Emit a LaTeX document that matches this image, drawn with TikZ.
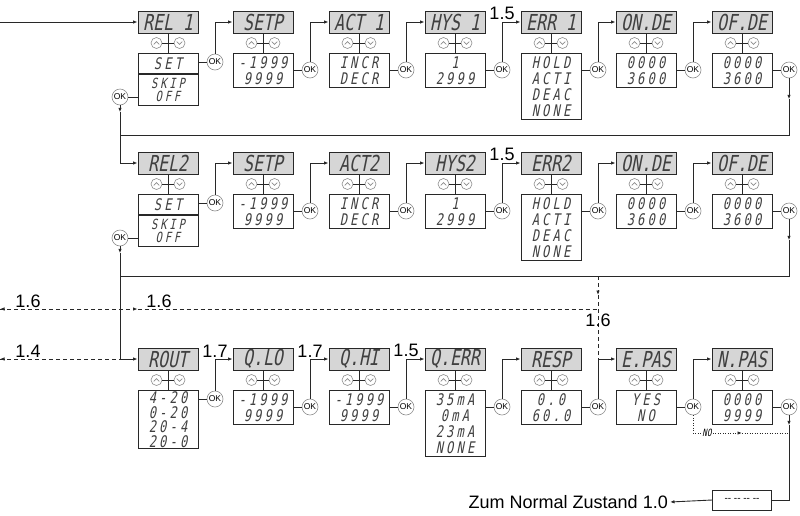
\documentclass[tikz,border=0pt]{standalone}
\usepackage{fontspec}
\setmainfont{Liberation Sans}
\newfontfamily\lcd[FakeSlant=0.2, FakeStretch=0.75]{DejaVu Sans Mono}
\newfontfamily\lcdw[FakeSlant=0.2, FakeStretch=0.75, LetterSpace=20]{DejaVu Sans Mono}
\usepackage{tikz}
\usetikzlibrary{calc, positioning, arrows.meta}
\usepackage{xcolor}
\definecolor{lcdgray}{RGB}{214, 214, 214}
\definecolor{linegray}{RGB}{40, 40, 40}
\definecolor{ringgray}{RGB}{140, 140, 140}

% 显示屏标题 + 上下键
\newcommand{\menuhead}[4]{%
    \node[hdr] (#1-h) at (#2, #3+11) {#4};
    \node[chev] (#1-u) at (#2-11.5, #3+32) {};
    \node[chev] (#1-d) at (#2+11.5, #3+32) {};
    \draw[chv] ([shift={(-2.8, 1.3)}]#1-u.center) -- ++(2.8, -2.6) -- ++(2.8, 2.6);
    \draw[chv] ([shift={(-2.8, -1.3)}]#1-d.center) -- ++(2.8, 2.6) -- ++(2.8, -2.6);
    \draw[wire] (#1-u) -- (#1-d);
}

\begin{document}
\begin{tikzpicture}[x=1pt, y=-1pt, >={Latex[length=4.5pt, width=3.5pt]},
    wire/.style={line width=0.9pt, draw=linegray},
    hdr/.style={draw=linegray, line width=0.9pt, fill=lcdgray, minimum width=60, minimum height=22, inner sep=0pt, text=black!75, font=\lcd\fontsize{22}{22}\selectfont},
    opt/.style={draw=linegray, line width=0.9pt, fill=white, minimum width=60, inner sep=0pt, align=center, anchor=north, text=black!75, font=\lcdw\fontsize{16}{16}\selectfont},
    okc/.style={circle, draw=ringgray, line width=0.6pt, fill=white, minimum size=16, inner sep=0pt, font=\fontsize{8.5}{9}\selectfont},
    chev/.style={circle, draw=ringgray, line width=0.6pt, minimum size=11, inner sep=0pt},
    chv/.style={draw=ringgray, line width=0.7pt},
    lbl/.style={above, inner sep=1.5pt, font=\fontsize{18}{18}\selectfont},
    dsh/.style={wire, dash pattern=on 4pt off 3pt},
    dot/.style={wire, dash pattern=on 1pt off 1.5pt}]
    \useasboundingbox (0,0) rectangle (800,515);

    % 继电器 1 和 2
    \foreach \rw/\ty/\kk in {a/11/{\ 1}, b/152/2} {
        \menuhead{rel\rw}{168}{\ty}{REL\kk}
        \node[opt, minimum height=20] (rel\rw-o) at (168, \ty+42) {SET};
        \node[opt, minimum height=31, font=\lcdw\fontsize{14}{13}\selectfont] (rel\rw-p) at (rel\rw-o.south) {SKIP\\OFF};
        \node[okc] (rel\rw-k) at (215, \ty+51) {OK};
        \node[okc] (rel\rw-l) at (120, \ty+86) {OK};
        \draw[wire] (rel\rw-h.south) -- (rel\rw-o.north);
        \draw[wire] (rel\rw-o.east |- rel\rw-k) -- (rel\rw-k);
        \draw[wire] (rel\rw-l) -- (rel\rw-p.west |- rel\rw-l);
        \foreach \nm/\xc/\ttl/\opts/\hh in {set/263/SETP/{-1999\\9999}/34, act/359/ACT\kk/{INCR\\DECR}/34,
                hys/455/HYS\kk/{1\\2999}/34, err/551/ERR\kk/{HOLD\\ACTI\\DEAC\\NONE}/66,
                ond/646/ON.DE/{0000\\3600}/34, ofd/742/OF.DE/{0000\\3600}/34} {
            \menuhead{\nm\rw}{\xc}{\ty}{\ttl}
            \node[opt, minimum height=\hh] (\nm\rw-o) at (\xc, \ty+42) {\opts};
            \node[okc] (\nm\rw-k) at (\xc+47, \ty+59) {OK};
            \draw[wire] (\nm\rw-h.south) -- (\nm\rw-o.north);
            \draw[wire] (\nm\rw-o.east |- \nm\rw-k) -- (\nm\rw-k);
        }
        \foreach \src/\dst/\lab in {rel/set/, set/act/, act/hys/, hys/err/1.5, err/ond/, ond/ofd/}
            \draw[wire, ->] (\src\rw-k) |- node[lbl, pos=0.5] {\lab} (\dst\rw-h.west);
    }

    % 模拟输出
    \menuhead{rout}{168}{348}{ROUT}
    \node[opt, minimum height=58, font=\lcdw\fontsize{16}{14.5}\selectfont] (rout-o) at (168, 390) {4-20\\0-20\\20-4\\20-0};
    \node[okc] (rout-k) at (215, 399) {OK};
    \draw[wire] (rout-h.south) -- (rout-o.north);
    \draw[wire] (rout-o.east |- rout-k) -- (rout-k);
    \foreach \nm/\xc/\ttl/\opts/\hh in {qlo/263/Q.LO/{-1999\\9999}/34, qhi/359/Q.HI/{-1999\\9999}/34,
            qerr/455/Q.ERR/{35mA\\0mA\\23mA\\NONE}/66, resp/551/RESP/{0.0\\60.0}/34,
            epas/646/E.PAS/{YES\\NO}/34, npas/742/N.PAS/{0000\\9999}/34} {
        \menuhead{\nm}{\xc}{348}{\ttl}
        \node[opt, minimum height=\hh] (\nm-o) at (\xc, 390) {\opts};
        \node[okc] (\nm-k) at (\xc+47, 407) {OK};
        \draw[wire] (\nm-h.south) -- (\nm-o.north);
        \draw[wire] (\nm-o.east |- \nm-k) -- (\nm-k);
    }
    \foreach \src/\dst/\lab in {rout/qlo/1.7, qlo/qhi/1.7, qhi/qerr/1.5, qerr/resp/, resp/epas/, epas/npas/}
        \draw[wire, ->] (\src-k) |- node[lbl, pos=0.5] {\lab} (\dst-h.west);

    % 返回线
    \coordinate (start) at (0, 22);
    \coordinate (reta) at (120, 135);
    \coordinate (retb) at (120, 276);
    \draw[wire, ->] (start) -- (rela-h.west);
    \draw[wire, ->] (rela-l.south) -- ++(0, 7);
    \draw[wire, ->] (rela-l.south) ++(0, 7) |- (relb-h.west);
    \draw[wire, ->] (ofda-k.south) -- ++(0, 21);
    \draw[wire] (ofda-k.south) ++(0, 21) |- (reta);
    \draw[wire, ->] (relb-l.south) -- ++(0, 7);
    \draw[wire, ->] (relb-l.south) ++(0, 7) |- (rout-h.west);
    \draw[wire, ->] (ofdb-k.south) -- ++(0, 21);
    \draw[wire] (ofdb-k.south) ++(0, 21) |- (retb);

    % 虚线入口 1.6 / 1.4
    \coordinate (jn) at (resp-k |- retb);
    \coordinate (in16) at (0, 309);
    \coordinate (in14) at (0, 359);
    \draw[dsh, ->] (jn) -- ++(0, 19);
    \draw[dsh] (jn) ++(0, 19) -- (resp-k |- epas-h);
    \draw[dsh, ->] (in16) -- (rela-h.west |- in16);
    \draw[dsh] (rela-h.west |- in16) -- (resp-k |- in16);
    \draw[dsh] (in14) -- (relb-l |- in14);
    \draw[wire, <-] (in16) -- ++(5, 0);
    \draw[wire, <-] (in14) -- ++(5, 0);
    \node[lbl] (l16a) at (28, 309) {1.6};
    \node[lbl] (l16b) at (159, 309) {1.6};
    \node[font=\fontsize{18}{18}\selectfont, inner sep=0pt] (l16c) at (598, 320) {1.6};
    \node[lbl] (l14) at (28, 359) {1.4};

    % 结束
    \coordinate (noarr) at (742, 433);
    \draw[dot, ->] (epas-k.south) |- (noarr);
    \draw[dot] (noarr) -- (npas-k |- noarr);
    \node[fill=white, inner sep=1pt, font=\lcd\fontsize{10}{10}\selectfont] (no) at (707, 433) {NO};
    \node[draw=linegray, line width=0.9pt, minimum width=59, minimum height=20, inner sep=0pt, font=\fontsize{10}{10}\selectfont] (zero) at (742, 500) {-{}- -{}- -{}- -{}-};
    \node[anchor=east, inner sep=2pt, font=\fontsize{18}{18}\selectfont] (zum) at (670, 502) {Zum Normal Zustand 1.0};
    \draw[wire, ->] (npas-k.south) -- ++(0, 10);
    \draw[wire] (npas-k.south) ++(0, 10) |- (zero.east);
    \draw[wire, ->] (zero.west) -- (zum.east);
\end{tikzpicture}
\end{document}
